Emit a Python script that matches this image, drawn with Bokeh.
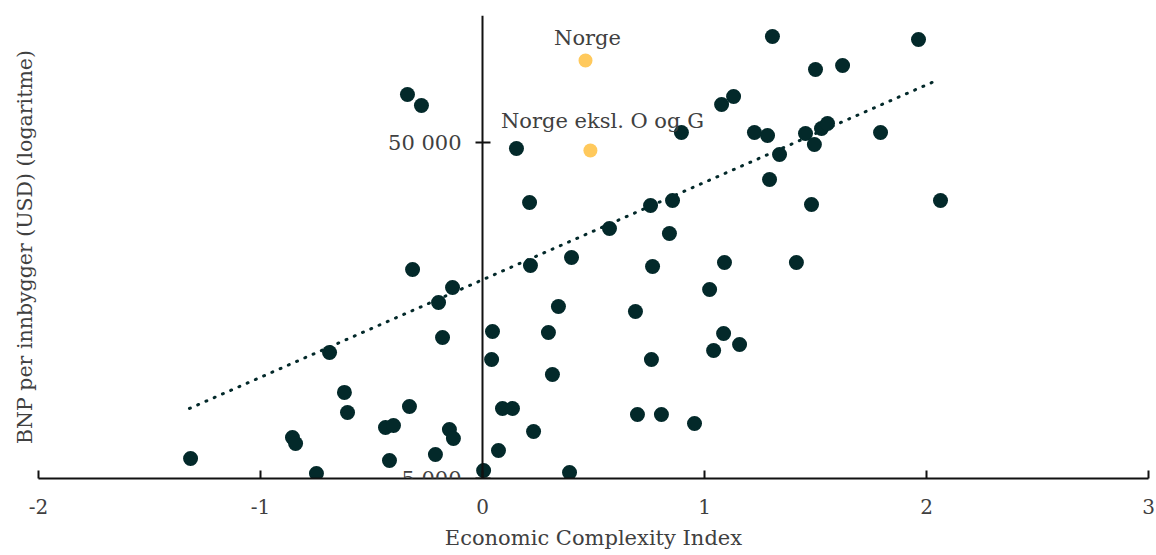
from bokeh.plotting import figure
from bokeh.models import LogAxis, FixedTicker, Range1d, Label
from bokeh.embed import file_html
from bokeh.resources import INLINE

# ---- data ----
eci = [-1.315, -0.856, -0.842, -0.748, -0.689, -0.622, -0.608, -0.437, -0.401, -0.419,
       -0.329, -0.338, -0.275, -0.315, -0.198, -0.135, -0.180, -0.212, -0.149, -0.131,
       0.005, 0.045, 0.041, 0.072, 0.090, 0.135, 0.153, 0.212, 0.216, 0.230,
       0.297, 0.315, 0.342, 0.392, 0.401, 0.572, 0.689, 0.698, 0.757, 0.766,
       0.761, 0.806, 0.856, 0.842, 0.896, 0.955, 1.023, 1.041, 1.077, 1.086,
       1.090, 1.131, 1.158, 1.225, 1.284, 1.293, 1.306, 1.338, 1.500, 1.622,
       1.414, 1.455, 1.482, 1.495, 1.527, 1.554, 1.793, 1.964, 2.063]
gdp = [5735, 6620, 6355, 5175, 11860, 9020, 7860, 7090, 7190, 5655,
       8190, 69450, 64450, 20940, 16700, 18510, 13140, 5895, 6995, 6580,
       5280, 13690, 11300, 6060, 8080, 8080, 47990, 33140, 21520, 6900,
       13600, 10200, 16250, 5210, 22740, 27730, 15700, 7755, 32470, 21380,
       11300, 7755, 33600, 26800, 53550, 7290, 18260, 12020, 64870, 13500,
       21970, 68550, 12520, 53550, 52450, 38800, 103400, 46050, 82460, 84770,
       21970, 53200, 32700, 49300, 55050, 56950, 53550, 101300, 33600]

norway_labels = ["Norge", "Norge eksl. O og G"]
norway_eci = [0.464, 0.486]
norway_gdp = [87700, 47330]

trend_eci = [-1.32, 2.055]
trend_gdp = [8080, 77000]

x_ticks = [-2, -1, 0, 1, 2, 3]
x_tick_labels = ["-2", "-1", "0", "1", "2", "3"]
y_ticks = [5000, 50000]
y_tick_labels = ["5 000", "50 000"]

x_title = "Economic Complexity Index"
y_title = "BNP per innbygger (USD) (logaritme)"

# ---- style ----
DARK = "#03292A"
YELLOW = "#FFC95C"
TEXT = "#404040"
AXIS = "#111111"
FONT = "DejaVu Serif"

p = figure(width=1156, height=555, x_range=Range1d(-2, 3), y_range=Range1d(5000, 119400),
           y_axis_type="log", output_backend="svg", toolbar_location=None,
           min_border_left=38, min_border_right=8, min_border_top=15, min_border_bottom=77)
p.outline_line_color = None
p.xgrid.visible = False
p.ygrid.visible = False

# title-only left axis
ya = p.yaxis[0]
ya.ticker = FixedTicker(ticks=[])
ya.axis_line_color = None
ya.major_tick_line_color = None
ya.minor_tick_line_color = None
ya.axis_label = y_title
ya.axis_label_standoff = 2
ya.axis_label_text_font = FONT
ya.axis_label_text_font_size = "20.5px"
ya.axis_label_text_font_style = "normal"
ya.axis_label_text_color = TEXT

# y axis crossing at x=0
yax = LogAxis(fixed_location=0, ticker=FixedTicker(ticks=y_ticks),
              major_label_overrides=dict(zip(y_ticks, y_tick_labels)))
yax.axis_line_width = 2
yax.axis_line_color = AXIS
yax.major_tick_line_width = 2
yax.major_tick_line_color = AXIS
yax.major_tick_in = 8
yax.major_tick_out = 7
yax.minor_tick_line_color = None
yax.major_label_standoff = 14
yax.major_label_text_font = FONT
yax.major_label_text_font_size = "21px"
yax.major_label_text_color = TEXT
p.add_layout(yax, "left")

xa = p.xaxis[0]
xa.ticker = FixedTicker(ticks=x_ticks)
xa.major_label_overrides = dict(zip(x_ticks, x_tick_labels))
xa.axis_line_width = 2
xa.axis_line_color = AXIS
xa.major_tick_line_width = 2
xa.major_tick_line_color = AXIS
xa.major_tick_in = 8
xa.major_tick_out = 0
xa.minor_tick_line_color = None
xa.major_label_standoff = 20
xa.major_label_text_font = FONT
xa.major_label_text_font_size = "20px"
xa.major_label_text_color = TEXT
xa.axis_label = x_title
xa.axis_label_standoff = 9
xa.axis_label_text_font = FONT
xa.axis_label_text_font_size = "21px"
xa.axis_label_text_font_style = "normal"
xa.axis_label_text_color = TEXT

p.line(trend_eci, trend_gdp, line_color=DARK, line_width=3, line_dash="1 8", line_cap="round")
p.scatter(eci, gdp, size=15, fill_color=DARK, line_color=DARK, line_width=0)
p.scatter(norway_eci, norway_gdp, size=14, fill_color=YELLOW, line_color=YELLOW, line_width=0)

offsets = [(2, 11), (12, 18)]
for name, xv, yv, (dx, dy) in zip(norway_labels, norway_eci, norway_gdp, offsets):
    p.add_layout(Label(x=xv, y=yv, text=name, x_offset=dx, y_offset=dy,
                       text_align="center", text_baseline="bottom",
                       text_font=FONT, text_font_size="21px", text_color=TEXT))

open("out.html", "w").write(file_html(p, INLINE))
